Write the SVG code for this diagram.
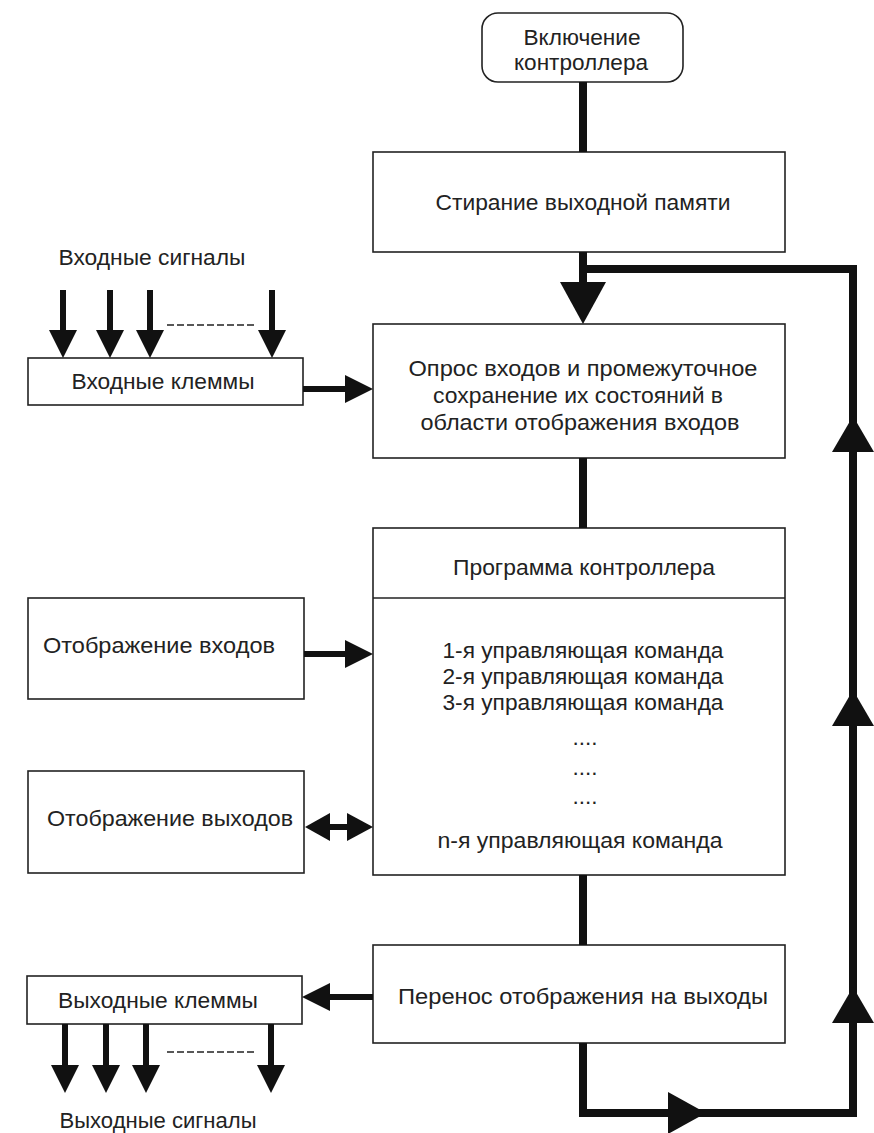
<svg xmlns="http://www.w3.org/2000/svg" width="874" height="1133" viewBox="0 0 874 1133">
<style>
.box{fill:#fff;stroke:#222;stroke-width:1.6}
.t{font-family:"Liberation Sans",Arial,sans-serif;font-size:22px;fill:#222;text-anchor:middle;dominant-baseline:central}
.thick{fill:none;stroke:#111;stroke-width:8;stroke-linejoin:miter;stroke-linecap:butt}
.mid{fill:none;stroke:#111;stroke-width:6}
.head{fill:#111;stroke:none}
.dash{fill:none;stroke:#222;stroke-width:1.5;stroke-dasharray:7 3}
</style>
<rect width="874" height="1133" fill="#fff"/>
<g id="start">
<rect class="box" x="482" y="13" width="201" height="69" rx="16"/>
<text class="t" x="582" y="37" textLength="117" lengthAdjust="spacingAndGlyphs">Включение</text>
<text class="t" x="581" y="62" textLength="134" lengthAdjust="spacingAndGlyphs">контроллера</text>
</g>
<g id="clear">
<rect class="box" x="373" y="152" width="412" height="100"/>
<text class="t" x="583" y="202" textLength="295" lengthAdjust="spacingAndGlyphs">Стирание выходной памяти</text>
</g>
<g id="poll">
<rect class="box" x="373" y="324" width="412" height="134"/>
<text class="t" x="583" y="368" textLength="349" lengthAdjust="spacingAndGlyphs">Опрос входов и промежуточное</text>
<text class="t" x="578" y="395" textLength="290" lengthAdjust="spacingAndGlyphs">сохранение их состояний в</text>
<text class="t" x="580" y="422" textLength="319" lengthAdjust="spacingAndGlyphs">области отображения входов</text>
</g>
<g id="program">
<rect class="box" x="373" y="528" width="412" height="347"/>
<line x1="373" y1="598" x2="785" y2="598" stroke="#222" stroke-width="1.6"/>
<text class="t" x="584" y="567" textLength="262" lengthAdjust="spacingAndGlyphs">Программа контроллера</text>
<text class="t" x="583" y="650" textLength="281" lengthAdjust="spacingAndGlyphs">1-я управляющая команда</text>
<text class="t" x="583" y="676" textLength="281" lengthAdjust="spacingAndGlyphs">2-я управляющая команда</text>
<text class="t" x="583" y="702" textLength="281" lengthAdjust="spacingAndGlyphs">3-я управляющая команда</text>
<text class="t" x="585" y="737" textLength="25" lengthAdjust="spacingAndGlyphs">....</text>
<text class="t" x="585" y="767" textLength="25" lengthAdjust="spacingAndGlyphs">....</text>
<text class="t" x="585" y="796" textLength="25" lengthAdjust="spacingAndGlyphs">....</text>
<text class="t" x="580" y="840" textLength="285" lengthAdjust="spacingAndGlyphs">n-я управляющая команда</text>
</g>
<g id="transfer">
<rect class="box" x="373" y="945" width="412" height="98"/>
<text class="t" x="583" y="996" textLength="370" lengthAdjust="spacingAndGlyphs">Перенос отображения на выходы</text>
</g>
<g id="inputs-label">
<text class="t" x="152" y="257" textLength="187" lengthAdjust="spacingAndGlyphs">Входные сигналы</text>
</g>
<g id="input-terminals">
<rect class="box" x="28" y="358" width="275" height="47"/>
<text class="t" x="163" y="381" textLength="183" lengthAdjust="spacingAndGlyphs">Входные клеммы</text>
</g>
<g id="input-image">
<rect class="box" x="28" y="598" width="276" height="101"/>
<text class="t" x="159" y="645" textLength="232" lengthAdjust="spacingAndGlyphs">Отображение входов</text>
</g>
<g id="output-image">
<rect class="box" x="28" y="771" width="276" height="102"/>
<text class="t" x="170" y="818" textLength="246" lengthAdjust="spacingAndGlyphs">Отображение выходов</text>
</g>
<g id="output-terminals">
<rect class="box" x="27" y="976" width="275" height="48"/>
<text class="t" x="158" y="1000" textLength="200" lengthAdjust="spacingAndGlyphs">Выходные клеммы</text>
</g>
<g id="outputs-label">
<text class="t" x="158" y="1120" textLength="197" lengthAdjust="spacingAndGlyphs">Выходные сигналы</text>
</g>
<g id="connectors">
<line class="thick" x1="583" y1="82" x2="583" y2="152"/>
<line class="thick" x1="583" y1="252" x2="583" y2="285"/>
<polygon class="head" points="560,282 606,282 583,324"/>
<path class="thick" d="M583,1043 V1113 H853 V269 H583"/>
<polygon class="head" points="832,452 874,452 853,416"/>
<polygon class="head" points="832,726 874,726 853,690"/>
<polygon class="head" points="832,1023 874,1023 853,987"/>
<polygon class="head" points="668,1092 668,1134 706,1113"/>
<line class="thick" x1="583" y1="458" x2="583" y2="528"/>
<line class="thick" x1="583" y1="875" x2="583" y2="945"/>
<line class="mid" x1="63" y1="290" x2="63" y2="333"/>
<polygon class="head" points="49,330 77,330 63,358"/>
<line class="mid" x1="110" y1="290" x2="110" y2="333"/>
<polygon class="head" points="96,330 124,330 110,358"/>
<line class="mid" x1="150" y1="290" x2="150" y2="333"/>
<polygon class="head" points="136,330 164,330 150,358"/>
<line class="mid" x1="272" y1="290" x2="272" y2="333"/>
<polygon class="head" points="258,330 286,330 272,358"/>
<line class="dash" x1="167" y1="325" x2="257" y2="325"/>
<line class="mid" x1="303" y1="389" x2="348" y2="389"/>
<polygon class="head" points="345,375 345,403 373,389"/>
<line class="mid" x1="304" y1="654" x2="348" y2="654"/>
<polygon class="head" points="345,640 345,668 373,654"/>
<line class="mid" x1="326" y1="827" x2="350" y2="827"/>
<polygon class="head" points="305,827 330,813 330,841"/>
<polygon class="head" points="373,827 347,813 347,841"/>
<line class="mid" x1="373" y1="997" x2="326" y2="997"/>
<polygon class="head" points="302,997 330,983 330,1011"/>
<line class="mid" x1="65" y1="1024" x2="65" y2="1068"/>
<polygon class="head" points="51,1065 79,1065 65,1093"/>
<line class="mid" x1="106" y1="1024" x2="106" y2="1068"/>
<polygon class="head" points="92,1065 120,1065 106,1093"/>
<line class="mid" x1="146" y1="1024" x2="146" y2="1068"/>
<polygon class="head" points="132,1065 160,1065 146,1093"/>
<line class="mid" x1="271" y1="1024" x2="271" y2="1068"/>
<polygon class="head" points="257,1065 285,1065 271,1093"/>
<line class="dash" x1="167" y1="1052" x2="257" y2="1052"/>
</g>
</svg>
